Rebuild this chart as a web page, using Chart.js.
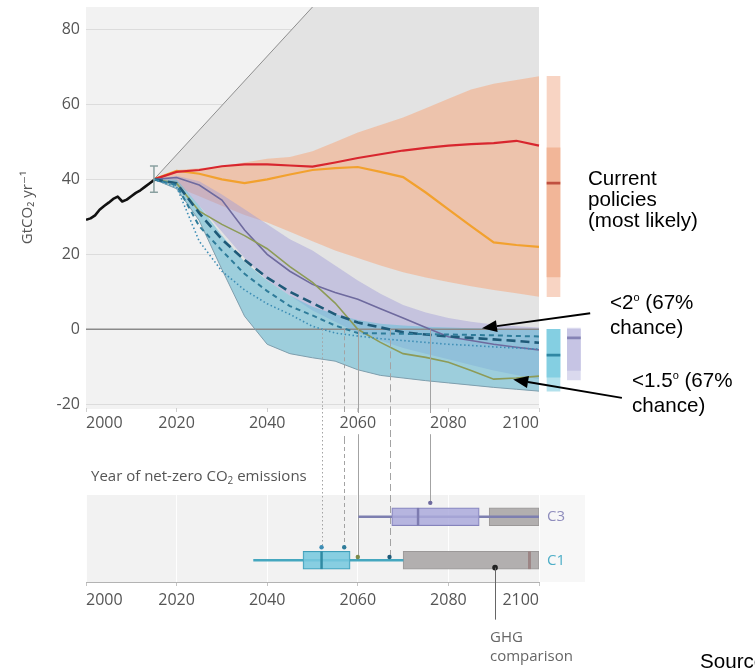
<!DOCTYPE html>
<html>
<head>
<meta charset="utf-8">
<title>Net CO2 emission pathways</title>
<script src="https://cdn.jsdelivr.net/npm/chart.js@4/dist/chart.umd.min.js"></script>
<style>
  html, body { margin:0; padding:0; background:#fff; }
  body { width:755px; height:669px; overflow:hidden; position:relative; }
  canvas { position:absolute; left:0; }
  #emissions { top:0; }
  #netzero { top:440px; }
  .label { position:absolute; white-space:nowrap; }
  .callout { font-family:"Liberation Sans", Arial, sans-serif; font-size:20.6px; line-height:21px; color:#000; }
  .callout sup { font-size:11px; vertical-align:0; position:relative; top:-8px; }
  .axisnote { font-family:"Open Sans","DejaVu Sans",sans-serif; font-size:15px; line-height:19px; color:#555; }
  .axisnote sub { font-size:10px; vertical-align:-3px; line-height:0; }
</style>
</head>
<body>
<canvas id="emissions" width="755" height="440"></canvas>
<canvas id="netzero" width="755" height="229"></canvas>
<div class="label callout" style="left:588px;top:167px">Current<br>policies<br>(most likely)</div>
<div class="label callout" style="left:610px;top:291px">&lt;2<sup>o</sup> (67%<br>chance)</div>
<div class="label callout" style="left:632px;top:369px">&lt;1.5<sup>o</sup> (67%<br>chance)</div>
<div class="label axisnote" style="left:91px;top:466px">Year of net-zero CO<sub>2</sub> emissions</div>
<div class="label axisnote" style="left:490px;top:627px;color:#666">GHG<br>comparison</div>
<div class="label callout" style="left:700px;top:650px">Source</div>

<script>
// ---------- Historical emissions (GtCO2 per year) ----------
const histYears = [2000,2001,2002,2003,2004,2005,2006,2007,2008,2009,2010,2011,2012,2013,2014,2015];
const histEmissions = [29.2,29.6,30.4,31.9,32.9,33.8,34.8,35.4,34.1,34.6,35.5,36.4,37.1,38.0,38.9,39.8];
const uncertaintyYear = 2015;
const uncertaintyRange = [36.6, 43.6];

// ---------- Scenario pathways ----------
const scenarioYears  = [2015,2020,2025,2030,2035,2040,2045,2050,2055,2060,2065,2070,2075,2080,2085,2090,2095,2100];
const policyUpper    = [40,42.5,43,43.5,44.5,45.5,46,47.5,50,52.5,54.5,56.5,59,61.5,64,65.5,66.5,67.5];
const policyLower    = [40,38,35.5,33,30.5,28.5,26,23.5,21,19,17,15.2,13.8,12.6,11.5,10.5,9.6,8.7];
const policyHigh     = [40,42,42.5,43.5,44,44,43.7,43.4,44.5,45.7,46.7,47.7,48.4,49,49.4,49.7,50.3,49];
const policyMid      = [40,42.3,41.5,40,39,40,41.3,42.5,43,43.3,42,40.6,36.5,32,27.5,23.2,22.5,22];
const c3Upper        = [40,41,39.5,36,32,28,24,21,17,13,9.5,6.5,4.5,3,2,1.3,0.8,0.5];
const c3Lower        = [40,39.5,33,26,19,13,9,5,2,-1,-3,-5,-6.5,-8,-9.5,-11,-12.2,-13.3];
const c1Upper        = [40,40,33,25,18,13,9,6,4,2.5,1.5,1,0.7,0.5,0.3,0.2,0.1,0];
const c1Lower        = [40,37.5,29,16,3.5,-4,-6.5,-7.6,-8.5,-10.8,-12.3,-13,-13.7,-14.3,-14.9,-15.5,-16,-16.5];
const c3Median       = [40,40.5,38.5,34.5,26.5,20,15.5,12,9.8,8,5.5,3,0.5,-2,-3,-4,-4.8,-5.5];
const c1Olive        = [40,39,31.5,28,25,21.5,16.7,12.5,7,0,-3.5,-6.5,-7.5,-8.8,-11,-13.3,-13,-12.5];
const c1LongDash     = [40,39,31,24,18.5,13.8,10,7,4,1.8,0.5,-0.8,-1.4,-1.9,-2.3,-2.7,-3.1,-3.6];
const c1ShortDash    = [40,38.5,27.5,21,14.8,10.2,6.2,3.7,1,-1,-1.1,-1.2,-1.3,-1.4,-1.5,-1.6,-1.8,-1.9];
const c1Dotted       = [40,38,23.5,15.5,10.5,6.8,4,0.8,-1,-1.8,-2.5,-3,-3.5,-4,-4.3,-4.7,-5,-5.3];
const fanYears       = [2015,2050,2100];
const fanUpper       = [40,86,86];
const zeroYears      = [2000,2100];
const zeroValues     = [0,0];

// ---------- 2100 ranges ----------
const policy2100Outer = [8.7,67.5],  policy2100Inner = [14,48.4],  policy2100Median = 39;
const c1_2100Outer    = [-16.5,0],   c1_2100Inner    = [-12.8,0],  c1_2100Median    = -6.9;
const c3_2100Outer    = [-13.5,0.3], c3_2100Inner    = [-11,0],    c3_2100Median    = -2.3;

// ---------- Axis ticks ----------
const yTicks = [-20,0,20,40,60,80];
const yearTicks = [2000,2020,2040,2060,2080,2100];

// ---------- Year of net-zero CO2 ----------
const rowKeys = ['C3','C1'];
const whiskerRange = {C3:[2060.2,2100], C1:[2037,2070]};
const boxRange     = {C3:[2067.5,2086.8], C1:[2047.9,2058.3]};
const boxMedian    = {C3:2073.3, C1:2052};
const ghgRange     = {C3:[2089,2100], C1:[2070,2100]};
const ghgMedian    = {C1:2097.9};
const ghgMarkYear  = 2090.3;
const netZeroYears    = [2052,2057,2060,2067,2076];
const netZeroScenario = ['C1','C1','C1','C1','C3'];

// ---------- Layout and style ----------
const FONT = '"Open Sans", "DejaVu Sans", sans-serif';
const yearMin = 2000, yearMax = 2100, yearScaleMax = 2110;
const sideBarPos = {policy:2103.2, c1:2103.2, c3:2107.7};
const rowPos = {C3:1.5, C1:0.5};
const rowColor = {C3:'#8f8dbd', C1:'#4eaec7'};
const markerLift = [0.3,0.3,0.075,0.075,0.32];
const markerColor = ['#3d8db5','#2f7c9a','#7b8a4a','#1f5a78','#6e6a9e'];
const connectorDash = [[1.5,2.5],[4,3],[],[7,4],[]];
const arrows = [
  {tail:[2111.3,4.3], tip:[2087.4,0.3]},
  {tail:[2118.3,-18.3], tip:[2094.3,-13.4]}
];

const pts = (xs, ys) => xs.map((x, i) => ({x, y: ys[i]}));
const CLEAR = 'rgba(0,0,0,0)';
const yearLabel = v => String(v);
function lockAxis(prop, size) {
  return s => { s[prop] = size; s.paddingLeft = s.paddingRight = s.paddingTop = s.paddingBottom = 0; };
}

// ================= Emissions panel =================
const ds = [];
const add = d => { ds.push(Object.assign({type:'line', pointRadius:0, tension:0, fill:false}, d)); return ds.length - 1; };

const iC1Low = add({data: pts(scenarioYears, c1Lower), borderColor:'#7f9fae', borderWidth:1, order:14});
const iC3Low = add({data: pts(scenarioYears, c3Lower), borderColor:CLEAR, borderWidth:0, order:40});
const iPolLow = add({data: pts(scenarioYears, policyLower), borderColor:CLEAR, borderWidth:0, order:40});
// full scenario range: filled fan plus its rising upper edge
add({data: pts(fanYears, fanUpper), borderWidth:0, borderColor:CLEAR,
     backgroundColor:'#e3e3e3', fill:{target:iC1Low}, order:30});
add({data: pts(fanYears.slice(0, 2), fanUpper.slice(0, 2)), borderWidth:1, borderColor:'#8e8e8e', order:26});
add({data: pts(scenarioYears, policyUpper), borderColor:CLEAR, borderWidth:0,
     backgroundColor:'rgba(243,176,138,0.62)', fill:{target:iPolLow}, order:29});
add({data: pts(scenarioYears, c3Upper), borderColor:CLEAR, borderWidth:0,
     backgroundColor:'rgba(160,155,215,0.45)', fill:{target:iC3Low}, order:28});
add({data: pts(scenarioYears, c1Upper), borderColor:CLEAR, borderWidth:0,
     backgroundColor:'rgba(100,190,215,0.55)', fill:{target:iC1Low}, order:27});
add({data: pts(zeroYears, zeroValues), borderColor:'#8a8a8a', borderWidth:1.5, order:20});
add({data: pts(scenarioYears, policyHigh), borderColor:'#d8262e', borderWidth:2.2, order:10});
add({data: pts(scenarioYears, policyMid), borderColor:'#f2a12e', borderWidth:2.2, order:10});
add({data: pts(scenarioYears, c3Median), borderColor:'#6e6a9e', borderWidth:1.6, order:9});
add({data: pts(scenarioYears, c1Olive), borderColor:'#8d9b57', borderWidth:1.6, order:8});
add({data: pts(scenarioYears, c1LongDash), borderColor:'#1f5a78', borderWidth:2.6, borderDash:[9,5], order:7});
add({data: pts(scenarioYears, c1ShortDash), borderColor:'#2f7c9a', borderWidth:2, borderDash:[5,4], order:6});
add({data: pts(scenarioYears, c1Dotted), borderColor:'#3d8db5', borderWidth:1.6, borderDash:[1.5,2.5], order:5});
add({data: pts(histYears, histEmissions), borderColor:'#111', borderWidth:2.6, borderJoinStyle:'round', order:4});
add({data: pts([uncertaintyYear, uncertaintyYear], uncertaintyRange), borderColor:'#8aa0a0', borderWidth:1.5,
     pointStyle:'line', pointRadius:4, pointBorderColor:'#8aa0a0', pointBorderWidth:1.5, order:3});

const sideBar = (x, range, color, order) => ({type:'bar', data:[{x, y:range}], backgroundColor:color,
  borderWidth:0, barThickness:13, grouped:false, order});
ds.push(sideBar(sideBarPos.policy, policy2100Outer, '#f8d4c3', 2));
ds.push(sideBar(sideBarPos.policy, policy2100Inner, '#f2b698', 1.9));
ds.push(sideBar(sideBarPos.policy, [policy2100Median-0.3, policy2100Median+0.3], '#c0503f', 1.8));
ds.push(sideBar(sideBarPos.c1, c1_2100Outer, '#b3e1ec', 2));
ds.push(sideBar(sideBarPos.c1, c1_2100Inner, '#84cfe2', 1.9));
ds.push(sideBar(sideBarPos.c1, [c1_2100Median-0.3, c1_2100Median+0.3], '#2f87a3', 1.8));
ds.push(sideBar(sideBarPos.c3, c3_2100Outer, '#dad9ee', 2));
ds.push(sideBar(sideBarPos.c3, c3_2100Inner, '#c6c4e4', 1.9));
ds.push(sideBar(sideBarPos.c3, [c3_2100Median-0.3, c3_2100Median+0.3], '#8583b5', 1.8));

function strokeConnectors(ctx, xScale, y0, y1s) {
  netZeroYears.forEach((yr, i) => {
    const px = Math.round(xScale.getPixelForValue(yr)) + 0.5;
    ctx.setLineDash(connectorDash[i]);
    ctx.beginPath();
    ctx.moveTo(px, y0);
    ctx.lineTo(px, Array.isArray(y1s) ? y1s[i] : y1s);
    ctx.stroke();
  });
  ctx.setLineDash([]);
}

const emissionsPanel = {
  id: 'emissionsPanel',
  beforeDraw(chart) {
    const {ctx, chartArea: a, scales: {x, y}} = chart;
    const xl = x.getPixelForValue(yearMin), xr = x.getPixelForValue(yearMax);
    ctx.save();
    ctx.fillStyle = '#f2f2f2';
    ctx.fillRect(xl, a.top, xr - xl, a.bottom - a.top + 1);
    ctx.strokeStyle = '#dcdcdc';
    ctx.lineWidth = 1;
    yTicks.forEach(v => {
      if (v === 0) return;
      const py = Math.round(y.getPixelForValue(v)) + 0.5;
      ctx.beginPath(); ctx.moveTo(xl, py); ctx.lineTo(xr, py); ctx.stroke();
    });
    // links running down to the lower panel (tick labels cover them)
    ctx.strokeStyle = '#a3a3a3';
    strokeConnectors(ctx, x, a.bottom, chart.height);
    ctx.restore();
  },
  afterDatasetsDraw(chart) {
    const {ctx, chartArea: a, scales: {x, y}} = chart;
    ctx.save();
    ctx.strokeStyle = '#a3a3a3';
    ctx.lineWidth = 1;
    strokeConnectors(ctx, x, y.getPixelForValue(0), a.bottom);
    ctx.restore();
  },
  afterDraw(chart) {
    const {ctx, scales: {x, y}} = chart;
    ctx.save();
    ctx.strokeStyle = '#000'; ctx.fillStyle = '#000'; ctx.lineWidth = 2;
    arrows.forEach(({tail, tip}) => {
      const tx = x.getPixelForValue(tail[0]), ty = y.getPixelForValue(tail[1]);
      const hx = x.getPixelForValue(tip[0]), hy = y.getPixelForValue(tip[1]);
      const ang = Math.atan2(hy - ty, hx - tx), len = 15, half = 6;
      const bx = hx - Math.cos(ang) * len, by = hy - Math.sin(ang) * len;
      ctx.beginPath(); ctx.moveTo(tx, ty); ctx.lineTo(bx, by); ctx.stroke();
      ctx.beginPath();
      ctx.moveTo(hx, hy);
      ctx.lineTo(bx + Math.sin(ang) * half, by - Math.cos(ang) * half);
      ctx.lineTo(bx - Math.sin(ang) * half, by + Math.cos(ang) * half);
      ctx.closePath(); ctx.fill();
    });
    ctx.restore();
  }
};

new Chart(document.getElementById('emissions'), {
  type: 'line',
  data: {datasets: ds},
  options: {
    responsive: false, animation: false, events: [],
    layout: {padding: {left: 15, top: 7, right: 755 - (86 + 4.53 * (yearScaleMax - yearMin)), bottom: 2}},
    plugins: {legend: {display: false}, tooltip: {enabled: false}},
    scales: {
      x: {
        type: 'linear', min: yearMin, max: yearScaleMax, offset: false,
        afterBuildTicks: s => { s.ticks = yearTicks.map(v => ({value: v})); },
        afterFit: lockAxis('height', 30),
        grid: {drawOnChartArea: false, tickLength: 4, tickColor: '#cfcfcf', offset: false},
        border: {display: false},
        ticks: {align: 'inner', color: '#555', font: {family: FONT, size: 16}, padding: 2, callback: yearLabel,
                maxRotation: 0, autoSkip: false, showLabelBackdrop: true, backdropColor: '#fff', backdropPadding: 1}
      },
      y: {
        type: 'linear', min: -21, max: 86, offset: false,
        afterBuildTicks: s => { s.ticks = yTicks.map(v => ({value: v})); },
        afterFit: lockAxis('width', 71),
        grid: {display: false, drawTicks: false},
        border: {display: false},
        ticks: {color: '#555', font: {family: FONT, size: 16}, padding: 6},
        title: {display: true, text: 'GtCO\u2082 yr\u207B\u00B9', color: '#555',
                font: {family: FONT, size: 15}, padding: {top: 4, bottom: 0}}
      }
    }
  },
  plugins: [emissionsPanel]
});

// ================= Year of net-zero panel =================
const hbar = (key, range, opts) => Object.assign({type: 'bar', indexAxis: 'y', grouped: false,
  data: [{x: range, y: rowPos[key]}], borderSkipped: false}, opts);

const bds = [];
rowKeys.forEach(k => {
  bds.push(hbar(k, ghgRange[k], {backgroundColor: '#b2afaf', borderColor: '#9b9898', borderWidth: 1, barThickness: 18, order: 6}));
  bds.push(hbar(k, whiskerRange[k], {backgroundColor: k === 'C3' ? '#7d7fb0' : '#45a7bf', borderWidth: 0, barThickness: 2, order: 5}));
  bds.push(hbar(k, boxRange[k], {backgroundColor: k === 'C3' ? 'rgba(172,170,220,0.85)' : 'rgba(120,200,222,0.88)',
    borderColor: k === 'C3' ? '#8583bb' : '#3f9db8', borderWidth: 1, barThickness: 18, order: 4}));
  bds.push(hbar(k, [boxMedian[k] - 0.2, boxMedian[k] + 0.2], {backgroundColor: k === 'C3' ? '#7d7bb0' : '#2f8aa3', borderWidth: 0, barThickness: 17, order: 3}));
});
bds.push(hbar('C1', [ghgMedian.C1 - 0.25, ghgMedian.C1 + 0.25], {backgroundColor: '#9c8585', borderWidth: 0, barThickness: 17, order: 3}));
bds.push({type: 'scatter', order: 1,
  data: netZeroYears.map((yr, i) => ({x: yr, y: rowPos[netZeroScenario[i]] + markerLift[i]})),
  pointRadius: 2.2, pointBackgroundColor: markerColor, pointBorderWidth: 0});
bds.push({type: 'scatter', order: 1, data: [{x: ghgMarkYear, y: rowPos.C1 - 0.17}],
  pointRadius: 2.8, pointBackgroundColor: '#222', pointBorderWidth: 0});

const netZeroPanel = {
  id: 'netZeroPanel',
  beforeDraw(chart) {
    const {ctx, chartArea: a, scales: {x}} = chart;
    const xl = x.getPixelForValue(yearMin);
    ctx.save();
    ctx.fillStyle = '#f7f7f7';
    ctx.fillRect(a.right, a.top, 46, a.bottom - a.top);
    ctx.fillStyle = '#f2f2f2';
    ctx.fillRect(xl, a.top, a.right - xl, a.bottom - a.top);
    ctx.restore();
  },
  beforeDatasetsDraw(chart) {
    const {ctx, scales: {x, y}} = chart;
    ctx.save();
    ctx.strokeStyle = '#a3a3a3';
    ctx.lineWidth = 1;
    const ends = netZeroYears.map((yr, i) => y.getPixelForValue(rowPos[netZeroScenario[i]] + markerLift[i]));
    strokeConnectors(ctx, x, 0, ends);
    ctx.restore();
  },
  afterDatasetsDraw(chart) {
    const {ctx, scales: {x, y}} = chart;
    const px = Math.round(x.getPixelForValue(ghgMarkYear)) + 0.5;
    const py = y.getPixelForValue(rowPos.C1 - 0.17);
    ctx.save();
    ctx.strokeStyle = '#666';
    ctx.lineWidth = 1;
    ctx.beginPath(); ctx.moveTo(px, py); ctx.lineTo(px, py + 52); ctx.stroke();
    ctx.restore();
  }
};

new Chart(document.getElementById('netzero'), {
  type: 'bar',
  data: {datasets: bds},
  options: {
    responsive: false, animation: false, events: [],
    layout: {padding: {left: 86, right: 176, top: 55, bottom: 57}},
    plugins: {legend: {display: false}, tooltip: {enabled: false}},
    scales: {
      x: {
        type: 'linear', min: yearMin, max: yearMax, offset: false,
        afterBuildTicks: s => { s.ticks = yearTicks.map(v => ({value: v})); },
        afterFit: lockAxis('height', 30),
        grid: {color: 'rgba(255,255,255,0.9)', tickColor: '#c4c4c4', tickLength: 4, offset: false},
        border: {color: '#b3b3b3'},
        ticks: {align: 'inner', color: '#555', font: {family: FONT, size: 16}, padding: 5, callback: yearLabel,
                maxRotation: 0, autoSkip: false}
      },
      y: {
        type: 'linear', position: 'right', min: 0, max: 2, offset: false,
        afterBuildTicks: s => { s.ticks = rowKeys.map(k => ({value: rowPos[k]})); },
        afterFit: lockAxis('width', 40),
        grid: {display: false, drawTicks: false, offset: false},
        border: {display: false},
        ticks: {
          padding: 8, font: {family: FONT, size: 15},
          callback: v => rowKeys.find(k => rowPos[k] === v),
          color: c => rowColor[rowKeys.find(k => rowPos[k] === c.tick.value)]
        }
      }
    }
  },
  plugins: [netZeroPanel]
});
</script>
</body>
</html>
